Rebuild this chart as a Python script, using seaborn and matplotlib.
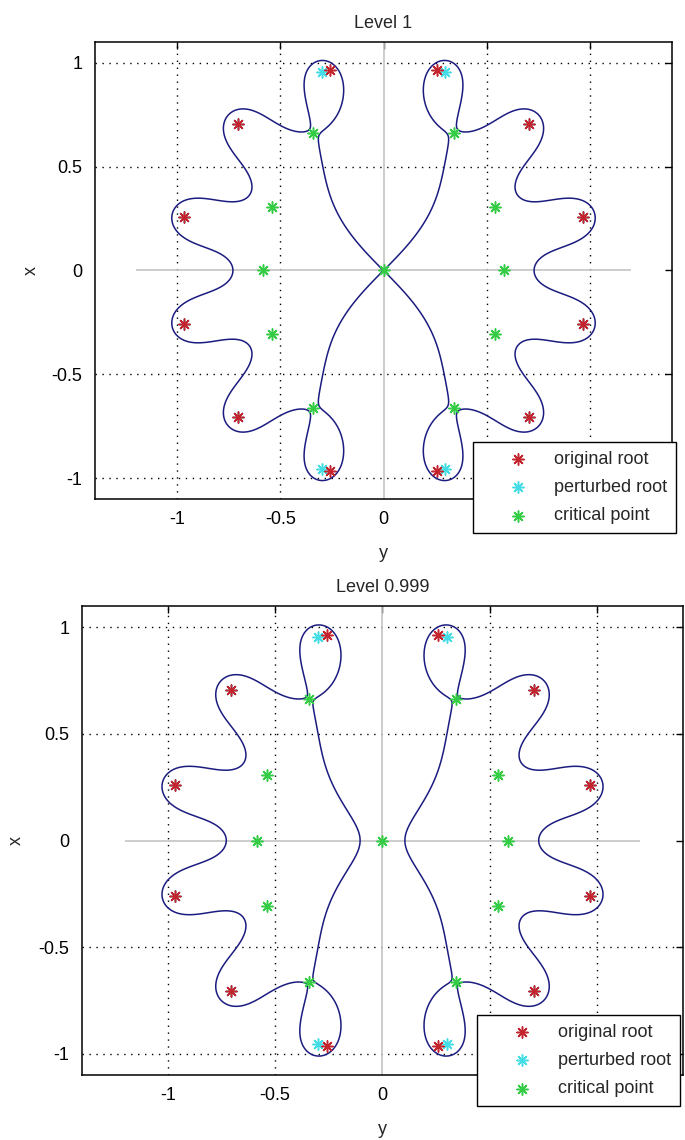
import numpy as np
import matplotlib
matplotlib.use("Agg")
import matplotlib.pyplot as plt
import seaborn as sns

sns.set_style("white")
plt.rcParams['font.family'] = ['Liberation Sans', 'DejaVu Sans']

# roots of z^12 + 1, z = x + i*y (x drawn vertically, y horizontally)
orig_root_y = [0.258819, 0.707107, 0.965926, 0.965926, 0.707107, 0.258819,
               -0.258819, -0.707107, -0.965926, -0.965926, -0.707107, -0.258819]
orig_root_x = [0.965926, 0.707107, 0.258819, -0.258819, -0.707107, -0.965926,
               -0.965926, -0.707107, -0.258819, 0.258819, 0.707107, 0.965926]

# four roots near the x axis pushed outwards
pert_root_y = [0.300706, 0.707107, 0.965926, 0.965926, 0.707107, 0.300706,
               -0.300706, -0.707107, -0.965926, -0.965926, -0.707107, -0.300706]
pert_root_x = [0.953717, 0.707107, 0.258819, -0.258819, -0.707107, -0.953717,
               -0.953717, -0.707107, -0.258819, 0.258819, 0.707107, 0.953717]

crit_y = [0.0, 0.587, -0.587, 0.540, 0.540, -0.540, -0.540, 0.343, 0.343, -0.343, -0.343]
crit_x = [0.0, 0.0, 0.0, 0.308, -0.308, 0.308, -0.308, 0.663, -0.663, 0.663, -0.663]

levels = [1.0, 0.999]
titles = ["Level 1", "Level 0.999"]
ticks = [-1, -0.5, 0, 0.5, 1]
tick_labels = ["-1", "-0.5", "0", "0.5", "1"]

curve_color = "#1c1c80"
red, cyan, green = "#c4242e", "#44dde6", "#33cc44"
star = (8, 2, 0)

fig = plt.figure(figsize=(6.85, 11.4), dpi=100)
axes = [fig.add_axes([95/685, 1 - 499/1140, 577/685, 457/1140]),
        fig.add_axes([82/685, 1 - 1075/1140, 601/685, 469/1140])]
legend_anchor = [(0.655, 0.125), (0.657, 0.128)]
xlabel_y = [-0.100, -0.098]

hh = np.linspace(-1.4, 1.4, 1401)
vv = np.linspace(-1.1, 1.1, 1101)
H, V = np.meshgrid(hh, vv)
Z = V + 1j * H
Q = np.ones_like(Z)
for rx, ry in zip(pert_root_x, pert_root_y):
    Q *= Z - (rx + 1j * ry)
absQ = np.abs(Q)

for ax, level, title, anchor, xly in zip(axes, levels, titles, legend_anchor, xlabel_y):
    ax.grid(True, color="k", linestyle=(0, (1, 4)), linewidth=1.0)
    ax.set_axisbelow(True)
    ax.hlines(0, -1.2, 1.2, color="#c4c4c4", lw=1.2, zorder=1.5)
    ax.axvline(0, color="#c4c4c4", lw=1.2, zorder=1.5)

    ax.contour(H, V, absQ, levels=[level], colors=curve_color, linewidths=1.1, zorder=2.5)

    sns.scatterplot(x=orig_root_y, y=orig_root_x, marker=star, s=65, color=red,
                    edgecolor=red, linewidth=1.1, zorder=4, label="original root", ax=ax)
    sns.scatterplot(x=pert_root_y, y=pert_root_x, marker=star, s=65, color=cyan,
                    edgecolor=cyan, linewidth=1.1, zorder=3, label="perturbed root", ax=ax)
    sns.scatterplot(x=crit_y, y=crit_x, marker=star, s=65, color=green,
                    edgecolor=green, linewidth=1.1, zorder=5, label="critical point", ax=ax)

    ax.set_xlim(-1.4, 1.4)
    ax.set_ylim(-1.1, 1.1)
    ax.set_xticks(ticks)
    ax.set_xticklabels(tick_labels)
    ax.set_yticks(ticks)
    ax.set_yticklabels(tick_labels)
    ax.tick_params(direction="in", length=5, width=1, top=True, right=True,
                   labelsize=13, pad=9, colors="k")
    # the grey zero lines replace the dotted grid lines at 0
    ax.xaxis.get_gridlines()[2].set_visible(False)
    ax.yaxis.get_gridlines()[2].set_visible(False)
    for sp in ax.spines.values():
        sp.set_color("k")
        sp.set_linewidth(1.1)

    ax.set_title(title, fontsize=13, pad=10)
    ax.set_xlabel("y", fontsize=13)
    ax.set_ylabel("x", fontsize=13)
    ax.xaxis.set_label_coords(0.5, xly)
    ax.yaxis.set_label_coords(-0.095, 0.5)

    leg = ax.legend(loc="upper left", bbox_to_anchor=anchor, borderaxespad=0,
                    frameon=True, fancybox=False, edgecolor="k", framealpha=1,
                    fontsize=13, borderpad=0.5, labelspacing=0.62,
                    handlelength=4.0, handletextpad=0.0)
    leg.get_frame().set_linewidth(1.0)
    leg.set_zorder(10)

fig.savefig("out.png", dpi=100)
